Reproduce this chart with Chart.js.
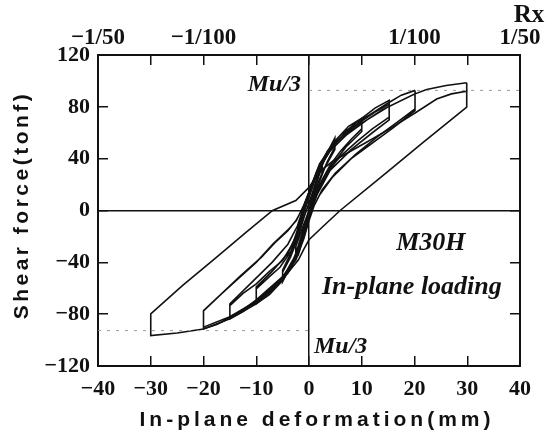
<!DOCTYPE html>
<html>
<head>
<meta charset="utf-8">
<script src="https://cdn.jsdelivr.net/npm/chart.js@4.4.0/dist/chart.umd.min.js"></script>
<style>
  html, body { margin: 0; padding: 0; background: #fff; }
  canvas { display: block; }
</style>
</head>
<body>
<canvas id="hysteresis" width="545" height="436"></canvas>
<script>
// LOOP DATA (in-plane deformation mm / shear force tonf)
const loop25Disp  = [0, 0.8, 1.8, 2.5, 2.5, 1.2, 0, -1, -2, -2.5, -2.5, -1.2, 0];
const loop25Force = [0, 12, 26, 33, 29, 14, 0, -14, -27, -32, -28, -13, 0];

const loop5Disp  = [0, 1, 2.5, 4, 4.9, 4.9, 3.5, 2, 0.5, -0.5, -2, -3.5, -5, -5, -3.5, -2, -1, 0, 1.5, 3, 4.9, 4.9, 3, 1.5, 0, -1, -2.5, -5, -5, -3, -1.5, 0, 1.5, 3, 5];
const loop5Force = [0, 16, 36, 49, 56, 49, 38, 24, 6, -8, -28, -43, -55, -47.6, -36, -20, -6, 6, 24, 40, 52, 47, 33, 17, 0, -16, -34, -52, -46, -29, -10, 5, 25, 42, 54];

const loop10Disp  = [5, 7.5, 10, 10, 8, 6, 4, 2, 0.5, -0.5, -2, -3.5, -5, -7.5, -10, -10, -7.5, -5.5, -3.5, -2.3, -1.2, 0, 1.5, 3.5, 6, 8, 10, 10, 7, 4, 2, 0.5, -0.5, -2, -4, -7, -10, -10, -7, -4, -2.3, -1, 0, 1.5, 3.5, 6, 10];
const loop10Force = [54, 65, 71.3, 63, 55, 46, 35, 20, 4, -10, -30, -44, -54, -65, -72, -60.5, -51, -43.8, -32, -20, -5, 10, 28, 44, 56, 64, 68, 61, 49, 33, 18, 2, -12, -32, -48, -61, -70, -59, -47, -33, -18, 0, 12, 30, 46, 58, 71];

const loop15Disp  = [10, 12.5, 15.2, 15.2, 12, 9, 6, 3.5, 1.5, 0.3, -0.6, -2, -4, -7, -10, -12.5, -15, -15, -12.5, -10, -7.5, -5, -3, -1.8, -0.8, 0.5, 2, 4, 7, 10, 12.5, 15.2, 15.2, 12, 8, 4, 1.5, 0.2, -1, -2.5, -5, -10, -13, -15, -15, -11, -7, -4, -2.2, -1, 0.3, 2, 5, 10, 15, 17.5, 20.1];
const loop15Force = [71, 79, 85, 72, 63, 53, 42, 30, 14, 0, -14, -34, -48, -61, -71, -78, -83.7, -73.4, -64, -56.6, -47, -38.6, -25, -10, 5, 20, 36, 48, 60, 69, 76, 82, 70, 60, 47, 31, 12, -3, -20, -38, -51, -69, -78, -82, -72, -56, -40, -26, -12, 3, 18, 36, 52, 70, 83, 89, 92.7];

const loop20Disp  = [20.1, 20.1, 17, 13, 9, 5, 2.5, 1, 0, -1, -2.5, -5, -10, -15, -17.5, -20, -20, -16.5, -13.1, -10, -6.8, -4, -2.4, -1, 0, 1.5, 3.5, 7, 11, 15, 20.1, 20.1, 16, 12, 8, 4.5, 2, 0.5, -0.7, -2, -4.5, -10, -15, -20, -20, -16, -13, -9, -6.5, -4, -2.5, -1, 0, 1.5, 4, 8, 14, 20.1, 22.3, 26, 29.9];
const loop20Force = [92.7, 78.5, 69, 57, 44, 29, 16, 4, -8, -22, -38, -53, -71, -83, -88, -91.4, -77.2, -64, -51.5, -40, -25.7, -15, -7.7, 4, 14, 30, 44, 58, 70, 80, 90, 77, 64, 52, 40, 26, 12, 0, -15, -32, -50, -70, -82, -90, -77.5, -62, -50.5, -36, -25, -15.5, -8, 3, 13, 29, 46, 62, 78, 90, 93.4, 96.5, 98.6];

const loop30Disp  = [29.9, 29.9, 21.7, 14, 5.9, 3, 0, -1, -2, -4, -7, -10, -15, -20, -25, -30, -30, -24, -17.5, -12, -6.9, -2.5, 0, 2, 4.5, 10.9, 15.3, 20.4, 24.2, 27, 29.9, 29.9];
const loop30Force = [98.6, 79.8, 52.7, 27, 0, -11, -22.6, -30, -38, -48, -62, -72, -83.5, -91.4, -94.5, -96.5, -79.8, -58, -36, -17, 0, 7.7, 17.8, 30, 38, 52.7, 63, 76, 86, 90, 92, 80];

// Mu/3 reference levels
const muUpperDisp  = [0, 40];
const muUpperForce = [92.7, 92.7];
const muLowerDisp  = [-40, 0];
const muLowerForce = [-92.7, -92.7];

// AXIS TICKS
const dispTicks   = [-40, -30, -20, -10, 0, 10, 20, 30, 40];
const forceTicks  = [-120, -80, -40, 0, 40, 80, 120];
const driftValues = [-40, -20, 20, 40];
const driftLabels = ['\u22121/50', '\u22121/100', '1/100', '1/50'];

const INK = '#111';
const SERIF = "'Liberation Serif', 'Times New Roman', serif";
const SANS = "'Liberation Sans', Arial, sans-serif";

function toPoints(xs, ys){
	return xs.map((x, i) => ({x: x, y: ys[i]}));
}
function minus(v){
	return v < 0 ? '\u2212' + Math.abs(v) : String(v);
}

const loops = [
	[loop25Disp, loop25Force],
	[loop5Disp, loop5Force],
	[loop10Disp, loop10Force],
	[loop15Disp, loop15Force],
	[loop20Disp, loop20Force],
	[loop30Disp, loop30Force]
];

const datasets = [
	{ data: toPoints(muUpperDisp, muUpperForce), borderColor: '#999', borderWidth: 1, borderDash: [3, 6] },
	{ data: toPoints(muLowerDisp, muLowerForce), borderColor: '#999', borderWidth: 1, borderDash: [3, 6] }
];
loops.forEach(l => {
	datasets.push({ data: toPoints(l[0], l[1]), borderColor: INK, borderWidth: 1.6 });
});

// zero lines only, ticks pointing inward
function zeroGrid(onChart){
	return {
		drawOnChartArea: onChart,
		color: ctx => (ctx.tick && ctx.tick.value === 0) ? INK : 'rgba(0,0,0,0)',
		lineWidth: 1.5,
		tickColor: INK,
		tickWidth: 1.5,
		tickLength: -10
	};
}
const frame = { display: true, color: INK, width: 2 };

// keep the plot box fixed, whatever the edge labels want
function fixHeight(h){
	return s => { s.height = h; s.paddingLeft = 0; s.paddingRight = 0; };
}
function fixWidth(w){
	return s => { s.width = w; s.paddingTop = 0; s.paddingBottom = 0; };
}

// TEXT ON THE PLOT
const labelsPlugin = {
	id: 'plotText',
	afterDraw(chart){
		const ctx = chart.ctx;
		const x = chart.scales.x, y = chart.scales.y;
		ctx.save();
		ctx.fillStyle = INK;
		ctx.textBaseline = 'middle';

		ctx.font = 'italic bold 24px ' + SERIF;
		ctx.textAlign = 'right';
		ctx.fillText('Mu/3', x.getPixelForValue(0) - 8, y.getPixelForValue(97));
		ctx.textAlign = 'left';
		ctx.fillText('Mu/3', x.getPixelForValue(0) + 5, y.getPixelForValue(-105));

		ctx.font = 'italic bold 26px ' + SERIF;
		ctx.textAlign = 'center';
		ctx.fillText('M30H', x.getPixelForValue(23.1), y.getPixelForValue(-25.5));
		ctx.fillText('In-plane loading', x.getPixelForValue(19.5), y.getPixelForValue(-59.5));

		ctx.font = 'bold 25px ' + SERIF;
		ctx.fillText('Rx', 529, 16);

		// axis titles
		ctx.font = 'bold 21px ' + SANS;
		ctx.letterSpacing = '4px';
		ctx.fillText('In-plane deformation(mm)', 317, 420);
		ctx.letterSpacing = '3.5px';
		ctx.translate(22, 205);
		ctx.rotate(-Math.PI / 2);
		ctx.fillText('Shear force(tonf)', 0, 0);
		ctx.restore();
	}
};

const tickFont = { family: SERIF, weight: 'bold', size: 22 };

new Chart(document.getElementById('hysteresis').getContext('2d'), {
	type: 'line',
	data: { datasets: datasets },
	options: {
		responsive: false,
		animation: false,
		devicePixelRatio: 1,
		layout: { padding: 0 },
		elements: { point: { radius: 0 }, line: { tension: 0, fill: false } },
		plugins: { legend: { display: false }, tooltip: { enabled: false } },
		scales: {
			x: {
				type: 'linear', position: 'bottom', min: -40, max: 40,
				afterBuildTicks: s => { s.ticks = dispTicks.map(v => ({value: v})); },
				ticks: { font: tickFont, color: INK, padding: 20, maxRotation: 0, autoSkip: false, callback: v => minus(v) },
				grid: zeroGrid(true), border: frame,
				afterFit: fixHeight(70)
			},
			xTop: {
				type: 'linear', position: 'top', min: -40, max: 40,
				afterBuildTicks: s => { s.ticks = dispTicks.map(v => ({value: v})); },
				ticks: {
					font: { family: SERIF, weight: 'bold', size: 23 }, color: INK, padding: 13,
					maxRotation: 0, autoSkip: false,
					callback: v => { const i = driftValues.indexOf(v); return i >= 0 ? driftLabels[i] : ''; }
				},
				grid: zeroGrid(false), border: frame,
				afterFit: fixHeight(55)
			},
			y: {
				type: 'linear', position: 'left', min: -120, max: 120,
				afterBuildTicks: s => { s.ticks = forceTicks.map(v => ({value: v})); },
				ticks: { font: tickFont, color: INK, padding: 18, callback: v => minus(v) },
				grid: zeroGrid(true), border: frame,
				afterFit: fixWidth(98)
			},
			yRight: {
				type: 'linear', position: 'right', min: -120, max: 120,
				afterBuildTicks: s => { s.ticks = forceTicks.map(v => ({value: v})); },
				ticks: { display: false },
				grid: zeroGrid(false), border: frame,
				afterFit: fixWidth(25)
			}
		}
	},
	plugins: [labelsPlugin]
});
</script>
</body>
</html>
